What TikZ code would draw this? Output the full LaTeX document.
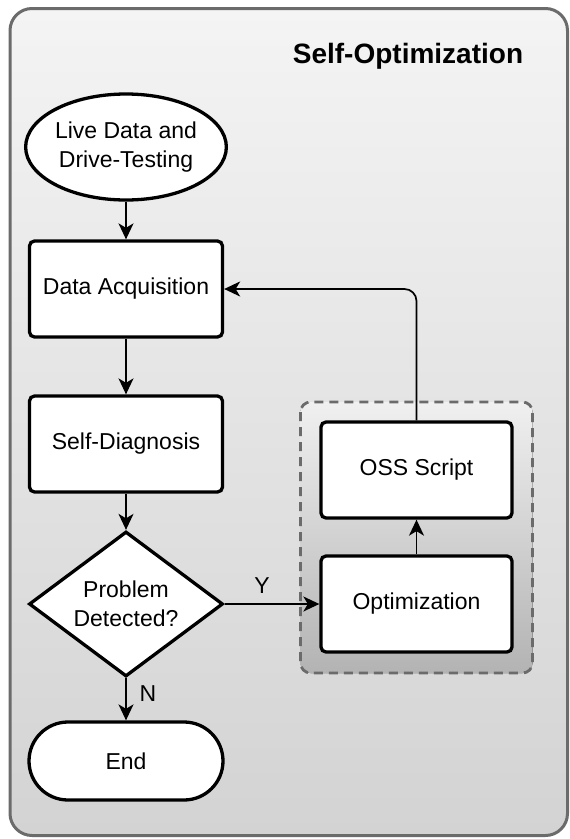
\documentclass[tikz,border=0pt]{standalone}
\usepackage{fontspec}
\setmainfont{Liberation Sans}
\usetikzlibrary{shapes.geometric,arrows.meta}
\definecolor{framegray}{HTML}{6B6B6B}
\definecolor{outertop}{HTML}{F4F4F4}
\definecolor{outerbot}{HTML}{D3D3D3}
\definecolor{grouptop}{HTML}{F0F0F0}
\definecolor{groupbot}{HTML}{B3B3B3}
\begin{document}
\begin{tikzpicture}[x=1pt,y=-1pt,
  txt/.style={font=\fontsize{23}{29}\selectfont,align=center,text=black},
  box/.style={txt,draw=black,line width=3.3pt,fill=white,rounded corners=5pt,
    minimum width=193pt,minimum height=96pt,inner sep=0pt},
  startnode/.style={txt,ellipse,draw=black,line width=3.3pt,fill=white,
    minimum width=196pt,minimum height=106pt,inner sep=0pt},
  decision/.style={txt,diamond,aspect=1.34,draw=black,line width=3.3pt,fill=white,
    minimum width=194pt,minimum height=145pt,inner sep=0pt},
  terminal/.style={txt,draw=black,line width=3.3pt,fill=white,rounded corners=39pt,
    minimum width=194pt,minimum height=78pt,inner sep=0pt},
  arr/.style={line width=1.7pt,draw=black,-{Stealth[length=16pt,width=15pt,inset=4.5pt]}},
  lbl/.style={txt,inner sep=0pt}
]
\useasboundingbox (0,0) rectangle (570,839);
% outer frame
\fill[top color=outertop,bottom color=outerbot,rounded corners=22pt]
  (10,8.5) rectangle (567.5,835.5);
\draw[draw=framegray,line width=3pt,rounded corners=22pt]
  (10,8.5) rectangle (567.5,835.5);
\node[font=\bfseries\fontsize{28}{34}\selectfont,inner sep=0pt] (title) at (408,56) {Self-Optimization};
% group container
\fill[top color=grouptop,bottom color=groupbot,rounded corners=10pt]
  (300.5,402) rectangle (532.5,673);
\draw[draw=framegray,line width=2.8pt,dash pattern=on 9pt off 6pt,rounded corners=10pt]
  (300.5,402) rectangle (532.5,673);
% nodes
\node[startnode] (live) at (126,147) {Live Data and\\Drive-Testing};
\node[box] (da) at (126,289) {Data Acquisition};
\node[box] (sd) at (126,444) {Self-Diagnosis};
\node[decision] (pd) at (126,604) {Problem\\Detected?};
\node[terminal] (end) at (126,761) {End};
\node[box,minimum width=191pt] (oss) at (416.5,470) {OSS Script};
\node[box,minimum width=191pt] (opt) at (416.5,604) {Optimization};
% connectors
\draw[arr] (live) -- (da);
\draw[arr] (da) -- (sd);
\draw[arr] (sd) -- (pd);
\draw[arr] (pd.east) -- (opt.west);
\draw[arr] (pd.south) -- (end.north);
\draw[arr] (opt) -- (oss);
\draw[arr,rounded corners=12pt] (oss.north) |- (da.east);
\node[lbl] (ylbl) at (262,586) {Y};
\node[lbl] (nlbl) at (148,694) {N};
\end{tikzpicture}
\end{document}
